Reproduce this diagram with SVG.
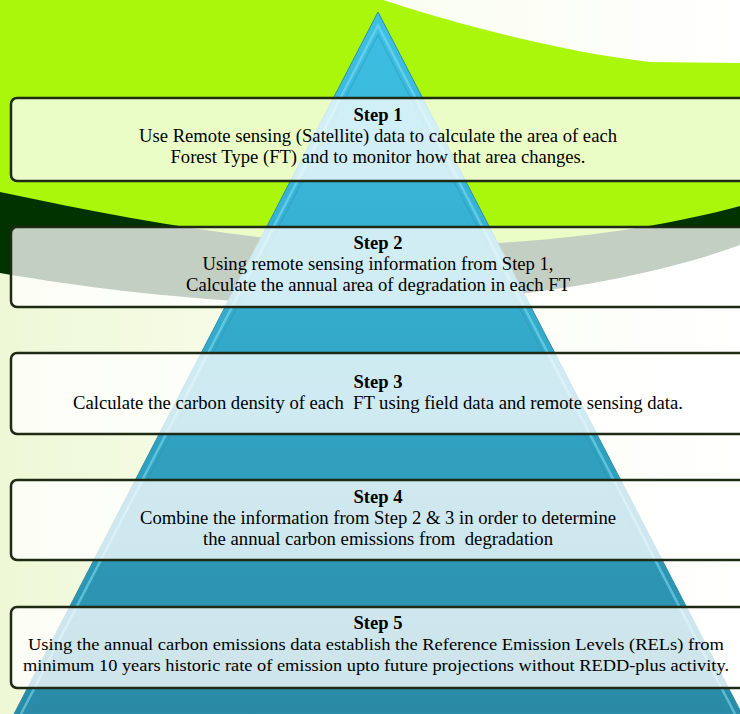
<svg xmlns="http://www.w3.org/2000/svg" width="740" height="714" viewBox="0 0 740 714">
<defs>
<linearGradient id="bg" x1="0" y1="0" x2="1" y2="0">
<stop offset="0" stop-color="#eef8d6"/>
<stop offset="0.45" stop-color="#f9fdee"/>
<stop offset="1" stop-color="#ffffff"/>
</linearGradient>
<linearGradient id="pyr" x1="0" y1="0" x2="0" y2="1">
<stop offset="0" stop-color="#3ec0e4"/>
<stop offset="0.5" stop-color="#33a8c8"/>
<stop offset="1" stop-color="#2a8aa6"/>
</linearGradient>
<style>
.box{fill:#ffffff;fill-opacity:0.77;stroke:#1e2a14;stroke-width:2.5}
.hd{font-family:"Liberation Serif","Times New Roman",serif;font-weight:bold;font-size:19.5px;fill:#000;text-anchor:middle}
.tx{font-family:"Liberation Serif","Times New Roman",serif;font-size:19.5px;fill:#000;text-anchor:middle}
.sm{font-size:17.5px}
</style>
</defs>
<g id="background">
<rect x="0" y="0" width="740" height="714" fill="url(#bg)"/>
<path d="M0,150 L740,150 L740,245 C650,278 520,300 380,305 C240,306 110,292 0,273 Z" fill="#003300"/>
<path d="M0,0 L383,0 C450,22 560,52 650,62 L740,63 L740,206 C660,228 540,246 400,246 C280,246 140,222 0,192 Z" fill="#aaf70b"/>
</g>
<g id="pyramid">
<polygon points="378,12 742,714 14,714" fill="url(#pyr)" stroke="#2b8fab" stroke-width="1"/>
<path d="M21,714 L378,25.5 L735,714" fill="none" stroke="#7adcf2" stroke-width="2.5" stroke-opacity="0.6"/>
<path d="M26,714 L378,35 L730,714" fill="none" stroke="#2a94b2" stroke-width="1.5" stroke-opacity="0.4"/>
</g>
<g id="connectors"></g>
<g id="step1">
<path class="box" d="M740,98 H17 A6,6 0 0 0 11,104 V175 A6,6 0 0 0 17,181 H740"/>
<text class="hd" x="378" y="121" textLength="49" lengthAdjust="spacingAndGlyphs">Step 1</text>
<text class="tx" x="378" y="142" textLength="478" lengthAdjust="spacingAndGlyphs">Use Remote sensing (Satellite) data to calculate the area of each</text>
<text class="tx" x="378" y="163" textLength="415" lengthAdjust="spacingAndGlyphs">Forest Type (FT) and to monitor how that area changes.</text>
</g>
<g id="step2">
<path class="box" d="M740,227 H17 A6,6 0 0 0 11,233 V301 A6,6 0 0 0 17,307 H740"/>
<text class="hd" x="378" y="249" textLength="49" lengthAdjust="spacingAndGlyphs">Step 2</text>
<text class="tx" x="378" y="270" textLength="351" lengthAdjust="spacingAndGlyphs">Using remote sensing information from Step 1,</text>
<text class="tx" x="378" y="291" textLength="384" lengthAdjust="spacingAndGlyphs">Calculate the annual area of degradation in each FT</text>
</g>
<g id="step3">
<path class="box" d="M740,353 H17 A6,6 0 0 0 11,359 V428 A6,6 0 0 0 17,434 H740"/>
<text class="hd" x="378" y="388" textLength="49" lengthAdjust="spacingAndGlyphs">Step 3</text>
<text class="tx" x="378" y="409" textLength="610" lengthAdjust="spacingAndGlyphs" xml:space="preserve">Calculate the carbon density of each  FT using field data and remote sensing data.</text>
</g>
<g id="step4">
<path class="box" d="M740,480 H17 A6,6 0 0 0 11,486 V554 A6,6 0 0 0 17,560 H740"/>
<text class="hd" x="378" y="503" textLength="49" lengthAdjust="spacingAndGlyphs">Step 4</text>
<text class="tx" x="378" y="524" textLength="476" lengthAdjust="spacingAndGlyphs">Combine the information from Step 2 &amp; 3 in order to determine</text>
<text class="tx" x="378" y="545" textLength="350" lengthAdjust="spacingAndGlyphs" xml:space="preserve">the annual carbon emissions from  degradation</text>
</g>
<g id="step5">
<path class="box" d="M740,607 H17 A6,6 0 0 0 11,613 V682 A6,6 0 0 0 17,688 H740"/>
<text class="hd" x="378" y="629" textLength="49" lengthAdjust="spacingAndGlyphs">Step 5</text>
<text class="tx sm" x="376" y="650" textLength="696" lengthAdjust="spacingAndGlyphs">Using the annual carbon emissions data establish the Reference Emission Levels (RELs) from</text>
<text class="tx sm" x="376" y="671" textLength="706" lengthAdjust="spacingAndGlyphs">minimum 10 years historic rate of emission upto future projections without REDD-plus activity.</text>
</g>
</svg>
